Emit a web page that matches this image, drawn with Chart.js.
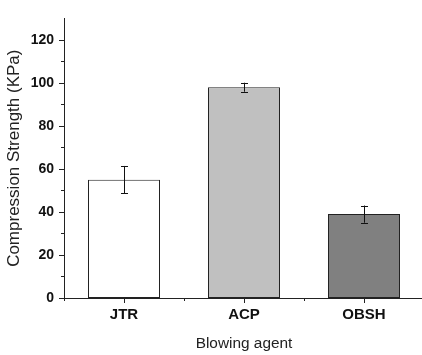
<!DOCTYPE html>
<html>
<head>
<meta charset="utf-8">
<script src="https://cdn.jsdelivr.net/npm/chart.js@4.4.1/dist/chart.umd.min.js"></script>
<style>
  html, body { margin: 0; padding: 0; background: #fff; overflow: hidden; }
  #wrap { width: 426px; height: 355px; }
</style>
</head>
<body>
<div id="wrap"><canvas id="chart" width="426" height="355"></canvas></div>
<script>
// data
const agents = ['JTR', 'ACP', 'OBSH'];
const strength = [55, 98, 39];
const strengthErr = [6.4, 2.1, 4.0];
const barColors = ['#ffffff', '#c0c0c0', '#808080'];
const yMajorTicks = [0, 20, 40, 60, 80, 100, 120];
const yMinorTicks = [10, 30, 50, 70, 90, 110];

const axisColor = '#222';

// error bars drawn from the y scale
const errorBars = {
    id: 'errorBars',
    afterDatasetsDraw(chart) {
        const ctx = chart.ctx;
        const y = chart.scales.y;
        const meta = chart.getDatasetMeta(0);
        ctx.save();
        ctx.strokeStyle = '#111';
        ctx.lineWidth = 1;
        meta.data.forEach((bar, i) => {
            const x = Math.round(bar.x) + 0.5;
            const top = y.getPixelForValue(strength[i] + strengthErr[i]);
            const bot = y.getPixelForValue(strength[i] - strengthErr[i]);
            ctx.beginPath();
            ctx.moveTo(x, top);
            ctx.lineTo(x, bot);
            ctx.moveTo(x - 3.5, Math.round(top) + 0.5);
            ctx.lineTo(x + 3.5, Math.round(top) + 0.5);
            ctx.moveTo(x - 3.5, Math.round(bot) + 0.5);
            ctx.lineTo(x + 3.5, Math.round(bot) + 0.5);
            ctx.stroke();
        });
        ctx.restore();
    }
};

// outward tick marks, major and minor
const axisTicks = {
    id: 'axisTicks',
    afterDraw(chart) {
        const ctx = chart.ctx;
        const x = chart.scales.x;
        const y = chart.scales.y;
        const area = chart.chartArea;
        ctx.save();
        ctx.strokeStyle = axisColor;
        ctx.lineWidth = 1;
        ctx.beginPath();
        yMajorTicks.forEach(v => {
            const py = Math.round(y.getPixelForValue(v)) + 0.5;
            ctx.moveTo(area.left - 5, py);
            ctx.lineTo(area.left, py);
        });
        yMinorTicks.forEach(v => {
            const py = Math.round(y.getPixelForValue(v)) + 0.5;
            ctx.moveTo(area.left - 3, py);
            ctx.lineTo(area.left, py);
        });
        agents.forEach((a, i) => {
            const px = Math.round(x.getPixelForValue(i)) + 0.5;
            ctx.moveTo(px, area.bottom);
            ctx.lineTo(px, area.bottom + 5);
            const mx = Math.round(x.getPixelForValue(i - 0.5)) + 0.5;
            ctx.moveTo(mx, area.bottom);
            ctx.lineTo(mx, area.bottom + 3);
        });
        ctx.stroke();
        ctx.restore();
    }
};

const ctx = document.getElementById('chart').getContext('2d');
new Chart(ctx, {
    type: 'bar',
    data: {
        labels: agents,
        datasets: [{
            data: strength,
            backgroundColor: barColors,
            borderColor: '#222',
            borderWidth: 1,
            borderSkipped: false,
            barPercentage: 0.6,
            categoryPercentage: 1.0
        }]
    },
    options: {
        responsive: false,
        animation: false,
        layout: { padding: { left: 0, right: 2, top: 10, bottom: 0 } },
        plugins: { legend: { display: false }, tooltip: { enabled: false } },
        scales: {
            x: {
                grid: { display: false, drawTicks: false, tickLength: 0 },
                border: { display: true, color: axisColor, width: 1 },
                ticks: {
                    color: '#111',
                    font: { family: 'Liberation Sans, Arial', size: 15, weight: 'bold' },
                    padding: 8,
                    maxRotation: 0
                },
                title: {
                    display: true,
                    text: 'Blowing agent',
                    color: '#222',
                    font: { family: 'Liberation Sans, Arial', size: 15.4 },
                    padding: { top: 0, bottom: 2 }
                },
                afterFit(scale) { scale.height = 57; }
            },
            y: {
                min: 0,
                max: 130,
                grid: { display: false, drawTicks: false, tickLength: 0 },
                border: { display: true, color: axisColor, width: 1 },
                afterBuildTicks(scale) {
                    scale.ticks = yMajorTicks.map(v => ({ value: v }));
                },
                ticks: {
                    color: '#111',
                    font: { family: 'Liberation Sans, Arial', size: 14, weight: 'bold' },
                    padding: 10
                },
                title: {
                    display: true,
                    text: 'Compression Strength (KPa)',
                    color: '#222',
                    font: { family: 'Liberation Sans, Arial', size: 17 },
                    padding: { top: 4, bottom: 0 }
                },
                afterFit(scale) { scale.width = 64; }
            }
        }
    },
    plugins: [errorBars, axisTicks]
});
</script>
</body>
</html>
